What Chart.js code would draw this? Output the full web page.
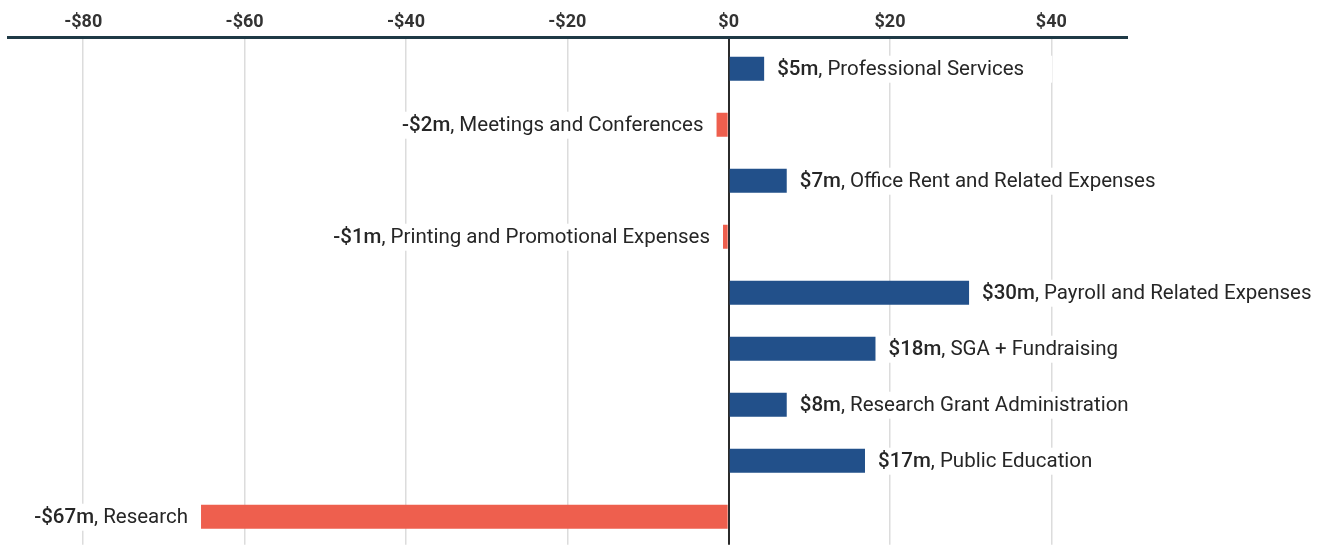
<!DOCTYPE html>
<html>
<head>
<meta charset="utf-8">
<script src="https://cdn.jsdelivr.net/npm/chart.js@4/dist/chart.umd.min.js"></script>
<style>
  html, body { margin: 0; padding: 0; background: #fff; }
  #wrap { width: 1323px; height: 552px; position: relative; }
</style>
</head>
<body>
<div id="wrap"><canvas id="c" width="1323" height="552"></canvas></div>
<script>
const categories = [
  'Professional Services',
  'Meetings and Conferences',
  'Office Rent and Related Expenses',
  'Printing and Promotional Expenses',
  'Payroll and Related Expenses',
  'SGA + Fundraising',
  'Research Grant Administration',
  'Public Education',
  'Research'
];
const values = [4.4, -1.5, 7.2, -0.7, 29.8, 18.2, 7.2, 16.9, -65.4];
const valueLabels = ['$5m', '-$2m', '$7m', '-$1m', '$30m', '$18m', '$8m', '$17m', '-$67m'];
const tickValues = [-80, -60, -40, -20, 0, 20, 40];
const tickLabels = ['-$80', '-$60', '-$40', '-$20', '$0', '$20', '$40'];

const BLUE = '#22508A';
const RED = '#EE5F4E';
const FONT = 'Roboto, "Noto Sans", sans-serif';
const LSIZE = 20.5;

function measure(ctx, i) {
  ctx.save();
  ctx.font = '500 ' + LSIZE + 'px ' + FONT;
  const w1 = ctx.measureText(valueLabels[i]).width;
  ctx.font = LSIZE + 'px ' + FONT;
  const w2 = ctx.measureText(', ' + categories[i]).width;
  ctx.restore();
  return w1 + w2;
}

const labelPlugin = {
  id: 'barLabels',
  beforeDatasetsDraw(chart) {
    const ctx = chart.ctx;
    const meta = chart.getDatasetMeta(0);
    ctx.save();
    meta.data.forEach((bar, i) => {
      const box = measure(ctx, i);
      const pos = values[i] >= 0;
      const x0 = pos ? bar.x + 13 : bar.x - 13 - box;
      const left = pos ? x0 - 4 : x0 - 28;
      const right = pos ? x0 + box + 28 : x0 + box + 4;
      ctx.fillStyle = '#ffffff';
      ctx.fillRect(left, bar.y - 13, right - left, 27);
    });
    ctx.restore();
  },
  afterDatasetsDraw(chart) {
    const ctx = chart.ctx;
    const meta = chart.getDatasetMeta(0);
    ctx.save();
    ctx.textBaseline = 'middle';
    ctx.textAlign = 'left';
    ctx.fillStyle = '#262626';
    meta.data.forEach((bar, i) => {
      const box = measure(ctx, i);
      const pos = values[i] >= 0;
      const x0 = pos ? bar.x + 13 : bar.x - 13 - box;
      const ty = bar.y + 1.5;
      ctx.font = '500 ' + LSIZE + 'px ' + FONT;
      ctx.fillText(valueLabels[i], x0, ty);
      const w1 = ctx.measureText(valueLabels[i]).width;
      ctx.font = LSIZE + 'px ' + FONT;
      ctx.fillText(', ' + categories[i], x0 + w1, ty);
    });
    ctx.restore();
    const a = chart.chartArea;
    ctx.save();
    ctx.strokeStyle = '#1F3A46';
    ctx.lineWidth = 3;
    ctx.beginPath();
    ctx.moveTo(a.left, 37.5);
    ctx.lineTo(a.right, 37.5);
    ctx.stroke();
    ctx.restore();
  }
};

new Chart(document.getElementById('c'), {
  type: 'bar',
  data: {
    labels: categories,
    datasets: [{
      data: values,
      backgroundColor: values.map(v => v >= 0 ? BLUE : RED),
      borderWidth: 0,
      barPercentage: 0.43,
      categoryPercentage: 1
    }]
  },
  options: {
    indexAxis: 'y',
    responsive: false,
    animation: false,
    layout: { padding: { top: 12, bottom: 7.3, left: 7, right: 195 } },
    plugins: { legend: { display: false }, tooltip: { enabled: false } },
    scales: {
      x: {
        position: 'top',
        min: -89.45,
        max: 49.5,
        afterBuildTicks(scale) {
          scale.ticks = tickValues.map(v => ({ value: v }));
        },
        afterFit(scale) {
          scale.height = 28.7;
        },
        ticks: {
          autoSkip: false,
          maxRotation: 0,
          padding: 4.6,
          color: '#333',
          font: { family: FONT, size: 18, weight: 'bold' },
          callback(value) {
            const idx = tickValues.indexOf(value);
            return idx >= 0 ? tickLabels[idx] : '';
          }
        },
        grid: {
          drawTicks: true,
          tickLength: 3,
          color: ctx => (ctx.tick && ctx.tick.value === 0) ? '#2b2b2b' : '#dcdcdc',
          lineWidth: ctx => (ctx.tick && ctx.tick.value === 0) ? 2 : 1.5
        },
        border: { display: false }
      },
      y: {
        display: false,
        grid: { display: false }
      }
    }
  },
  plugins: [labelPlugin]
});
</script>
</body>
</html>
